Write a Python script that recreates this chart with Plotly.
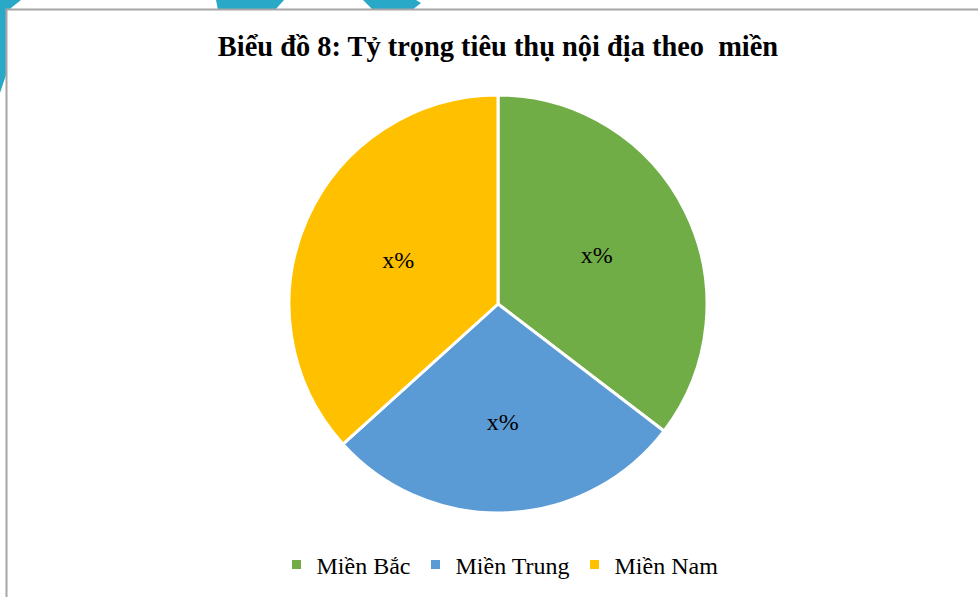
import plotly.graph_objects as go

# ---- data ----
regions = ["Miền Bắc", "Miền Trung", "Miền Nam"]
shares = [35.4, 27.9, 36.7]
slice_labels = ["x%", "x%", "x%"]
colors = ["#70AD47", "#5B9BD5", "#FFC000"]
title_text = "Biểu đồ 8: Tỷ trọng tiêu thụ nội địa theo  miền"

W, H = 978, 597


def fx(x):
    return x / W


def fy(y):
    return 1 - y / H


def path(points):
    return "M " + " L ".join(f"{fx(x):.5f},{fy(y):.5f}" for x, y in points) + " Z"


fig = go.Figure()
fig.add_trace(go.Pie(
    labels=regions,
    values=shares,
    text=slice_labels,
    textinfo="text",
    textposition="inside",
    insidetextorientation="horizontal",
    sort=False,
    direction="clockwise",
    rotation=0,
    marker=dict(colors=colors, line=dict(color="white", width=3)),
    textfont=dict(family="Liberation Serif", size=24, color="#000000"),
    domain=dict(x=[fx(289), fx(707)], y=[fy(513), fy(95)]),
    hoverinfo="label+percent",
))

cyan = "#2AA8C8"
shapes = [
    # decorative background hexagon fragments
    dict(type="path", path=path([(0, 0), (21, 0), (6, 12), (6, 75), (0, 93)]),
         xref="paper", yref="paper", fillcolor=cyan, line=dict(width=0), layer="below"),
    dict(type="path", path=path([(216, 0), (284, 0), (275, 10), (218, 10)]),
         xref="paper", yref="paper", fillcolor=cyan, line=dict(width=0), layer="below"),
    dict(type="path", path=path([(363, 0), (416, 0), (421, 3), (412, 10), (373, 10)]),
         xref="paper", yref="paper", fillcolor=cyan, line=dict(width=0), layer="below"),
    # chart frame
    dict(type="rect", x0=fx(6.5), x1=fx(W + 5), y0=fy(H + 5), y1=fy(9.5),
         xref="paper", yref="paper", fillcolor="white",
         line=dict(color="#A6A6A6", width=2), layer="below"),
]

fig.update_layout(
    width=W, height=H,
    margin=dict(l=0, r=0, t=0, b=0),
    paper_bgcolor="white",
    plot_bgcolor="white",
    shapes=shapes,
    title=dict(text=title_text, x=fx(498), xanchor="center", y=fy(46), yanchor="middle",
               font=dict(family="Liberation Serif", size=28.4, color="#000000", weight="bold")),
    showlegend=True,
    legend=dict(orientation="h", x=fx(500), xanchor="center", y=fy(565), yanchor="middle",
                font=dict(family="Liberation Serif", size=24, color="#000000"),
                bgcolor="rgba(0,0,0,0)", itemclick=False, itemdoubleclick=False),
)

fig.write_html("out.html", config={"displayModeBar": False},
               post_script="document.body.style.margin='0';document.body.style.overflow='hidden';")
